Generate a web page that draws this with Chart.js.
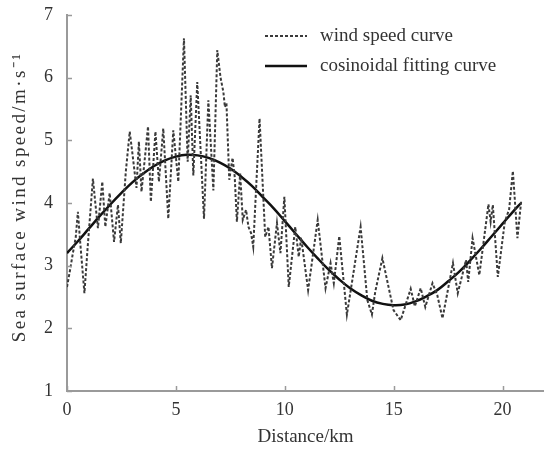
<!DOCTYPE html>
<html>
<head>
<meta charset="utf-8">
<script src="https://cdn.jsdelivr.net/npm/chart.js@4.4.0/dist/chart.umd.min.js"></script>
<style>
    html, body { margin: 0; padding: 0; background: #fff; }
    #wrap { width: 544px; height: 452px; }
</style>
</head>
<body>
<div id="wrap"><canvas id="chart" width="544" height="452"></canvas></div>
<script>
// wind speed along the track (km, m/s)
const distance = [
    0.00, 0.15, 0.27, 0.40, 0.50, 0.60, 0.80, 0.95, 1.19, 1.30,
    1.42, 1.62, 1.76, 1.96, 2.16, 2.34, 2.47, 2.70, 2.88, 3.00,
    3.19, 3.30, 3.42, 3.72, 3.85, 4.06, 4.22, 4.42, 4.65, 4.88,
    5.11, 5.37, 5.54, 5.68, 5.80, 5.98, 6.29, 6.49, 6.72, 6.90,
    7.05, 7.18, 7.25, 7.32, 7.45, 7.60, 7.70, 7.80, 7.95, 8.07,
    8.22, 8.33, 8.45, 8.55, 8.84, 9.10, 9.25, 9.41, 9.64, 9.80,
    9.98, 10.18, 10.48, 10.64, 10.75, 11.07, 11.51, 11.87, 12.10, 12.25,
    12.50, 12.85, 13.10, 13.48, 13.79, 14.00, 14.15, 14.48, 14.99, 15.32,
    15.78, 15.97, 16.24, 16.45, 16.78, 17.00, 17.24, 17.72, 17.94, 18.32,
    18.42, 18.62, 18.93, 19.35, 19.45, 19.55, 19.78, 20.10, 20.30, 20.47,
    20.68, 20.85
];
const windSpeed = [
    2.66, 2.95, 3.20, 3.45, 3.86, 3.40, 2.56, 3.30, 4.39, 4.00,
    3.60, 4.34, 3.62, 4.16, 3.38, 3.97, 3.36, 4.50, 5.14, 4.80,
    4.24, 4.98, 4.18, 5.22, 4.02, 5.14, 4.34, 5.19, 3.75, 5.16,
    4.34, 6.63, 4.66, 5.72, 4.44, 5.93, 3.75, 5.64, 4.20, 6.44,
    6.00, 5.77, 5.53, 5.60, 4.37, 4.72, 4.42, 3.70, 4.47, 3.73,
    3.89, 3.62, 3.52, 3.30, 5.35, 3.46, 3.62, 2.96, 3.68, 3.20,
    4.10, 2.66, 3.62, 3.14, 3.45, 2.61, 3.73, 2.64, 3.04, 2.72,
    3.47, 2.22, 2.77, 3.62, 2.45, 2.22, 2.58, 3.12, 2.29, 2.13,
    2.63, 2.35, 2.64, 2.34, 2.72, 2.53, 2.16, 3.04, 2.56, 3.09,
    2.74, 3.44, 2.85, 3.98, 3.70, 3.97, 2.82, 3.70, 3.90, 4.51,
    3.44, 4.02
];

// cosinoidal fitting curve
const fitDistance = [
    0, 0.5, 1, 1.5, 2, 2.5, 3, 3.5, 4, 4.5, 5, 5.5, 6, 6.5, 7, 7.5, 8, 8.5,
    9, 9.5, 10, 10.5, 11, 11.5, 12, 12.5, 13, 13.5, 14, 14.5, 15, 15.5,
    16, 16.5, 17, 17.5, 18, 18.5, 19, 19.5, 20, 20.5, 20.85
];
const fitSpeed = [
    3.20, 3.39, 3.59, 3.79, 3.98, 4.16, 4.33, 4.47, 4.59, 4.68, 4.74, 4.77,
    4.76, 4.72, 4.65, 4.55, 4.42, 4.27, 4.09, 3.91, 3.71, 3.51, 3.31, 3.12,
    2.94, 2.78, 2.64, 2.53, 2.44, 2.39, 2.37, 2.38, 2.43, 2.51, 2.61, 2.75,
    2.90, 3.08, 3.27, 3.47, 3.67, 3.87, 4.00
];

const xTicks = [0, 5, 10, 15, 20];
const yTicks = [1, 2, 3, 4, 5, 6, 7];
const yTitle = 'Sea surface wind speed/m·s⁻¹';

const FONT = 'Liberation Serif';
const AXIS_COLOR = '#9a9a9a';
const TEXT_COLOR = '#333';

// ticks point into the plot, like the original
const inwardTicks = {
    id: 'inwardTicks',
    afterDraw(chart) {
        const { ctx, chartArea, scales } = chart;
        ctx.save();
        ctx.strokeStyle = AXIS_COLOR;
        ctx.lineWidth = 1.5;
        ctx.beginPath();
        xTicks.forEach(v => {
            const px = Math.round(scales.x.getPixelForValue(v)) + 0.5;
            ctx.moveTo(px, chartArea.bottom);
            ctx.lineTo(px, chartArea.bottom - 5);
        });
        yTicks.forEach(v => {
            const py = Math.round(scales.y.getPixelForValue(v)) + 0.5;
            ctx.moveTo(chartArea.left, py);
            ctx.lineTo(chartArea.left + 5, py);
        });
        ctx.stroke();
        ctx.restore();
    }
};

// y title drawn by hand so it can be letter-spaced like the original
const spacedYTitle = {
    id: 'spacedYTitle',
    afterDraw(chart) {
        const { ctx, chartArea } = chart;
        ctx.save();
        ctx.translate(20, (chartArea.top + chartArea.bottom) / 2 - 6);
        ctx.rotate(-Math.PI / 2);
        ctx.font = '19px "' + FONT + '"';
        ctx.letterSpacing = '2.4px';
        ctx.fillStyle = TEXT_COLOR;
        ctx.textAlign = 'center';
        ctx.textBaseline = 'middle';
        ctx.fillText(yTitle, 0, 0);
        ctx.restore();
    }
};

// legend drawn by hand: two rows, sample line then label
const sideLegend = {
    id: 'sideLegend',
    afterDraw(chart) {
        const { ctx } = chart;
        ctx.save();
        ctx.font = '19px "' + FONT + '"';
        ctx.fillStyle = TEXT_COLOR;
        ctx.textBaseline = 'middle';
        chart.data.datasets.forEach((ds, i) => {
            const y = 36 + i * 30;
            ctx.strokeStyle = ds.borderColor;
            ctx.lineWidth = ds.borderWidth;
            ctx.setLineDash(ds.borderDash || []);
            ctx.beginPath();
            ctx.moveTo(265, y);
            ctx.lineTo(307, y);
            ctx.stroke();
            ctx.fillText(ds.label, 320, y);
        });
        ctx.restore();
    }
};

new Chart(document.getElementById('chart'), {
    type: 'line',
    data: {
        datasets: [
            {
                label: 'wind speed curve',
                data: distance.map((d, i) => ({ x: d, y: windSpeed[i] })),
                borderColor: '#3a3a3a',
                borderWidth: 2,
                borderDash: [3, 2],
                pointRadius: 0,
                tension: 0
            },
            {
                label: 'cosinoidal fitting curve',
                data: fitDistance.map((d, i) => ({ x: d, y: fitSpeed[i] })),
                borderColor: '#111',
                borderWidth: 2.5,
                pointRadius: 0,
                tension: 0.4
            }
        ]
    },
    options: {
        responsive: false,
        animation: false,
        layout: { padding: { top: 15, right: 0, left: 0, bottom: 0 } },
        plugins: {
            legend: { display: false },
            tooltip: { enabled: false }
        },
        scales: {
            x: {
                type: 'linear',
                min: 0,
                max: 21.9,
                afterBuildTicks: scale => { scale.ticks = xTicks.map(v => ({ value: v })); },
                afterFit: scale => { scale.height = 61; },
                grid: { display: false, drawTicks: false },
                border: { color: AXIS_COLOR, width: 2 },
                ticks: { color: TEXT_COLOR, font: { family: FONT, size: 18 }, padding: 8, maxRotation: 0 },
                title: {
                    display: true,
                    text: 'Distance/km',
                    color: TEXT_COLOR,
                    font: { family: FONT, size: 19 },
                    padding: { top: 0, bottom: 4 }
                }
            },
            y: {
                min: 1,
                max: 7,
                afterBuildTicks: scale => { scale.ticks = yTicks.map(v => ({ value: v })); },
                afterFit: scale => {
                    scale.width = 67;
                    scale.paddingTop = 0;
                    scale.paddingBottom = 0;
                },
                grid: { display: false, drawTicks: false },
                border: { color: AXIS_COLOR, width: 2 },
                ticks: { color: TEXT_COLOR, font: { family: FONT, size: 18 }, padding: 14 }
            }
        }
    },
    plugins: [inwardTicks, spacedYTitle, sideLegend]
});
</script>
</body>
</html>
